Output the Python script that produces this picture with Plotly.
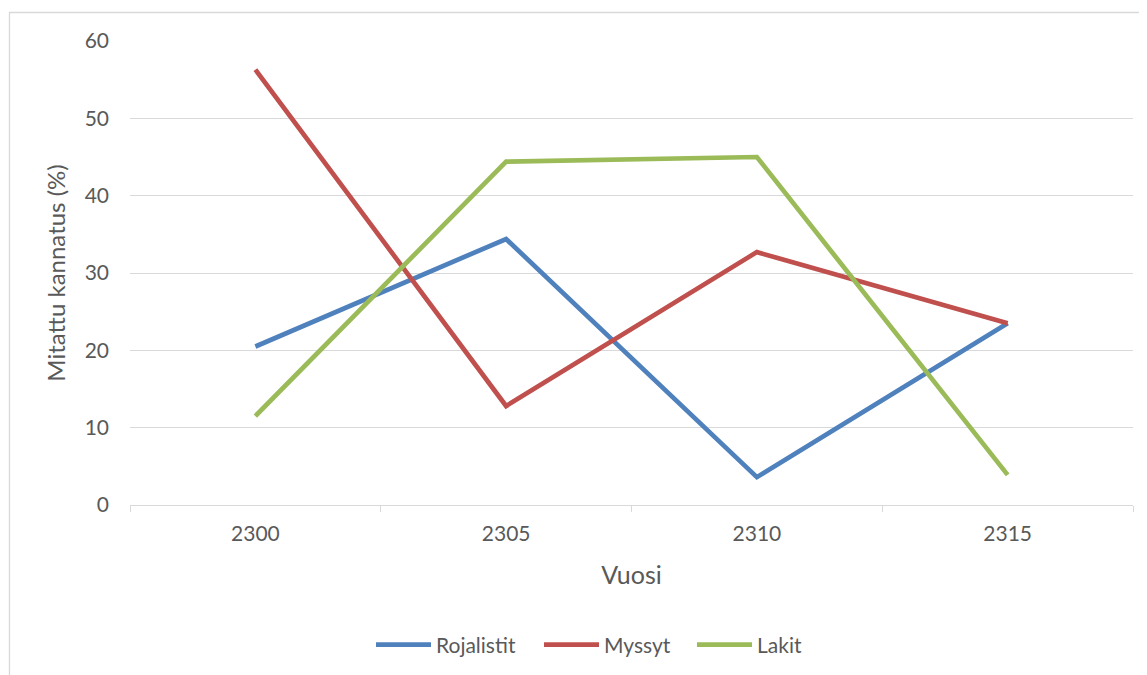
import plotly.graph_objects as go

years = ["2300", "2305", "2310", "2315"]
rojalistit = [20.5, 34.4, 3.6, 23.5]
myssyt = [56.3, 12.8, 32.7, 23.5]
lakit = [11.5, 44.4, 45.0, 3.9]

series_names = ["Rojalistit", "Myssyt", "Lakit"]
series_values = [rojalistit, myssyt, lakit]
colors = ["#4F81BD", "#C0504D", "#9BBB59"]

OFF = 8  # page body margin
W, H = 1147 - OFF, 675 - OFF
L, R, T, B = 130 - OFF, 1133 - OFF, 41 - OFF, 505 - OFF

def px_x(x):
    return (x - OFF - L) / (R - L)

def px_y(y):
    return (B - (y - OFF)) / (B - T)

font_fam = "Lato, Open Sans, sans-serif"
tick_col = "#595959"
grid_col = "#D9D9D9"

legend_ids = ["legend", "legend2", "legend3"]
legend_left_px = [371, 539, 692]

fig = go.Figure()
for name, vals, col, lid in zip(series_names, series_values, colors, legend_ids):
    fig.add_trace(go.Scatter(x=years, y=vals, name=name, mode="lines", legend=lid,
                             line=dict(color=col, width=4.7)))

legend_layouts = {}
for lid, lx in zip(legend_ids, legend_left_px):
    legend_layouts[lid] = dict(orientation="h", x=px_x(lx), y=px_y(645), xanchor="left",
                               yanchor="middle", font=dict(size=21, color=tick_col),
                               itemwidth=55, bgcolor="rgba(0,0,0,0)")

fig.update_layout(
    width=W, height=H,
    margin=dict(l=L, r=W - R, t=T, b=H - B, autoexpand=False),
    paper_bgcolor="white", plot_bgcolor="white",
    font=dict(family=font_fam, color=tick_col, size=21),
    showlegend=True,
    xaxis=dict(type="category", categoryorder="array", categoryarray=years,
               range=[-0.5, 3.5], tickson="boundaries", ticks="outside", ticklen=6,
               tickcolor=grid_col, showline=True, linecolor=grid_col, linewidth=1.3,
               showgrid=False, zeroline=False, ticklabelstandoff=10,
               tickfont=dict(size=21, color=tick_col),
               title=dict(text="Vuosi", font=dict(size=25, color=tick_col), standoff=22)),
    yaxis=dict(range=[0, 60], dtick=10, tick0=0, showgrid=True, gridcolor=grid_col, gridwidth=1.3,
               zeroline=False, showline=False, ticks="", ticklabelstandoff=20,
               tickfont=dict(size=21, color=tick_col),
               title=dict(text="Mitattu kannatus (%)", font=dict(size=24, color=tick_col), standoff=12)),
    shapes=[dict(type="rect", xref="paper", yref="paper",
                 x0=px_x(9.5), x1=px_x(1170), y0=px_y(700), y1=px_y(12.5),
                 line=dict(color=grid_col, width=1.3), fillcolor="rgba(0,0,0,0)", layer="below")],
    **legend_layouts,
)

fig.write_html("out.html")
